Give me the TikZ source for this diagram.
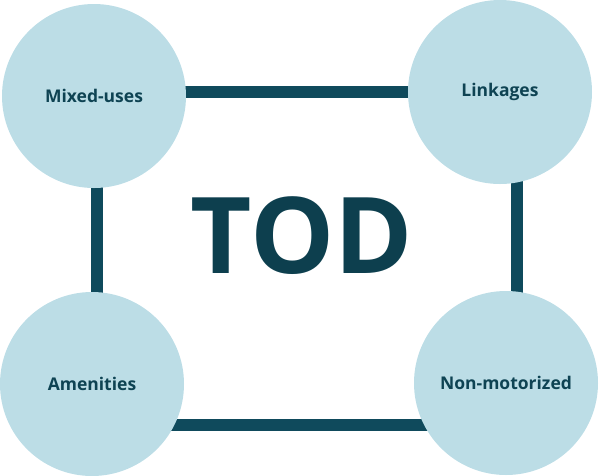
\documentclass[tikz,border=0pt]{standalone}
\usepackage{fontspec}
\setmainfont{Open Sans}
\usetikzlibrary{positioning}
\definecolor{frame}{HTML}{0F4A5C}
\definecolor{disc}{HTML}{BCDDE6}
\begin{document}
\begin{tikzpicture}[x=1pt,y=-1pt]
        \tikzstyle{hub}=[circle,fill=disc,minimum size=184pt,inner sep=0pt,font=\bfseries\fontsize{17.5}{20}\selectfont,text=frame!90!black]
        \tikzstyle{link}=[frame,line width=12pt]
        \useasboundingbox (0,0) rectangle (600,475);
        \coordinate (tl) at (97,92);
        \coordinate (br) at (517,425);
        \draw [link] (tl) rectangle (br);
        \node [hub] (mix) at (94,96) {Mixed-uses};
        \node [hub] (lnk) at (500,92) {Linkages};
        \node [hub] (amen) at (92,384) {Amenities};
        \node [hub] (nonmot) at (506,383) {Non-motorized};
        \node [font=\bfseries\fontsize{106}{110}\selectfont,text=frame!85!black] (tod) at (302,236) {TOD};
    \end{tikzpicture}
\end{document}
